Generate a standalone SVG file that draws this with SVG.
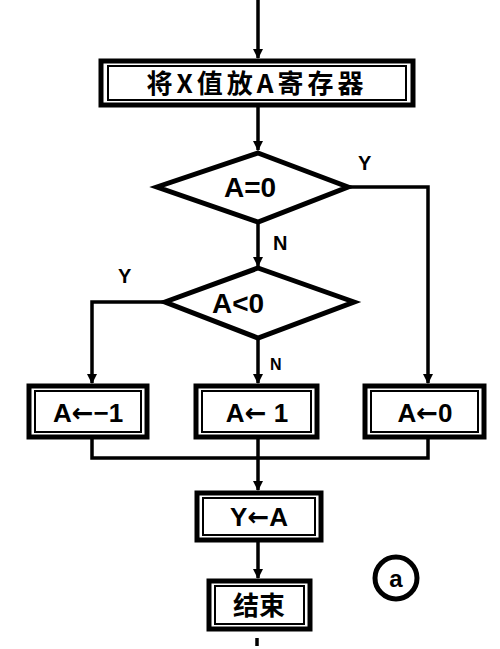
<svg xmlns="http://www.w3.org/2000/svg" width="500" height="649" viewBox="0 0 500 649">
<defs>
<marker id="ah" viewBox="0 0 10 10" refX="9" refY="5" markerWidth="3" markerHeight="3" orient="auto"><path d="M0,0 L10,5 L0,10 z" fill="#000"/></marker>
<style>
.box{fill:#fff;stroke:#000;stroke-width:5}
.inner{fill:none;stroke:#000;stroke-width:2}
.dia{fill:#fff;stroke:#000;stroke-width:5}
.ln{fill:none;stroke:#000;stroke-width:3.5}
.t{font-family:"Liberation Sans","Noto Sans CJK SC",sans-serif;font-weight:bold;fill:#000;text-anchor:middle}
.ar{font-family:"DejaVu Sans",sans-serif;font-weight:bold}
.cjk{font-family:"Noto Sans CJK SC",sans-serif;font-weight:bold;fill:#000;text-anchor:middle}
.lab{font-family:"Liberation Sans",sans-serif;font-weight:bold;fill:#000;font-size:20px}
</style>
</defs>
<rect width="500" height="649" fill="#fff"/>
<g id="connectors">
<path class="ln" d="M258,0 V58" marker-end="url(#ah)"/>
<path class="ln" d="M258,106 V150" marker-end="url(#ah)"/>
<path class="ln" d="M348,187 H428 V383" marker-end="url(#ah)"/>
<path class="ln" d="M258,222 V266" marker-end="url(#ah)"/>
<path class="ln" d="M165,302 H92 V383" marker-end="url(#ah)"/>
<path class="ln" d="M258,340 V383" marker-end="url(#ah)"/>
<path class="ln" d="M92,438 V458 H428 V438"/>
<path class="ln" d="M258,438 V458"/>
<path class="ln" d="M258,458 V490" marker-end="url(#ah)"/>
<path class="ln" d="M258,541 V578" marker-end="url(#ah)"/>
<path class="ln" d="M257,638 V646"/>
<text class="lab" x="358" y="170">Y</text>
<text class="lab" x="273" y="250">N</text>
<text class="lab" x="118" y="283">Y</text>
<text class="lab" x="270" y="370" style="font-size:16px">N</text>
</g>
<g id="start">
<rect class="box" x="101" y="61" width="312" height="44"/>
<rect class="inner" x="108" y="66" width="298" height="34"/>
<text class="cjk" x="257" y="93" font-size="26" letter-spacing="4">将X值放A寄存器</text>
</g>
<g id="cond1">
<polygon class="dia" points="258,153 348,187 258,222 157,187"/>
<text class="t" x="250" y="197" font-size="28">A=0</text>
</g>
<g id="cond2">
<polygon class="dia" points="258,268 354,302 258,338 165,302"/>
<text class="t" x="238" y="313" font-size="28">A&lt;0</text>
</g>
<g id="boxL">
<rect class="box" x="29" y="386" width="118" height="51"/>
<rect class="inner" x="35" y="391" width="106" height="41"/>
<text class="t" x="88" y="422" font-size="26">A<tspan class="ar">←</tspan>−1</text>
</g>
<g id="boxM">
<rect class="box" x="196" y="386" width="121" height="51"/>
<rect class="inner" x="202" y="391" width="109" height="41"/>
<text class="t" x="257" y="422" font-size="26">A<tspan class="ar">←</tspan> 1</text>
</g>
<g id="boxR">
<rect class="box" x="365" y="386" width="119" height="51"/>
<rect class="inner" x="371" y="391" width="107" height="41"/>
<text class="t" x="425" y="422" font-size="26">A<tspan class="ar">←</tspan>0</text>
</g>
<g id="assign">
<rect class="box" x="197" y="493" width="124" height="47"/>
<rect class="inner" x="203" y="498" width="112" height="37"/>
<text class="t" x="259" y="526" font-size="26">Y<tspan class="ar">←</tspan>A</text>
</g>
<g id="end">
<rect class="box" x="209" y="581" width="101" height="48"/>
<rect class="inner" x="215" y="586" width="89" height="38"/>
<text class="cjk" x="259" y="615" font-size="26">结束</text>
</g>
<g id="mark">
<circle cx="396" cy="578" r="21" fill="#fff" stroke="#000" stroke-width="5"/>
<text class="t" x="396" y="587" font-size="24">a</text>
</g>
</svg>
